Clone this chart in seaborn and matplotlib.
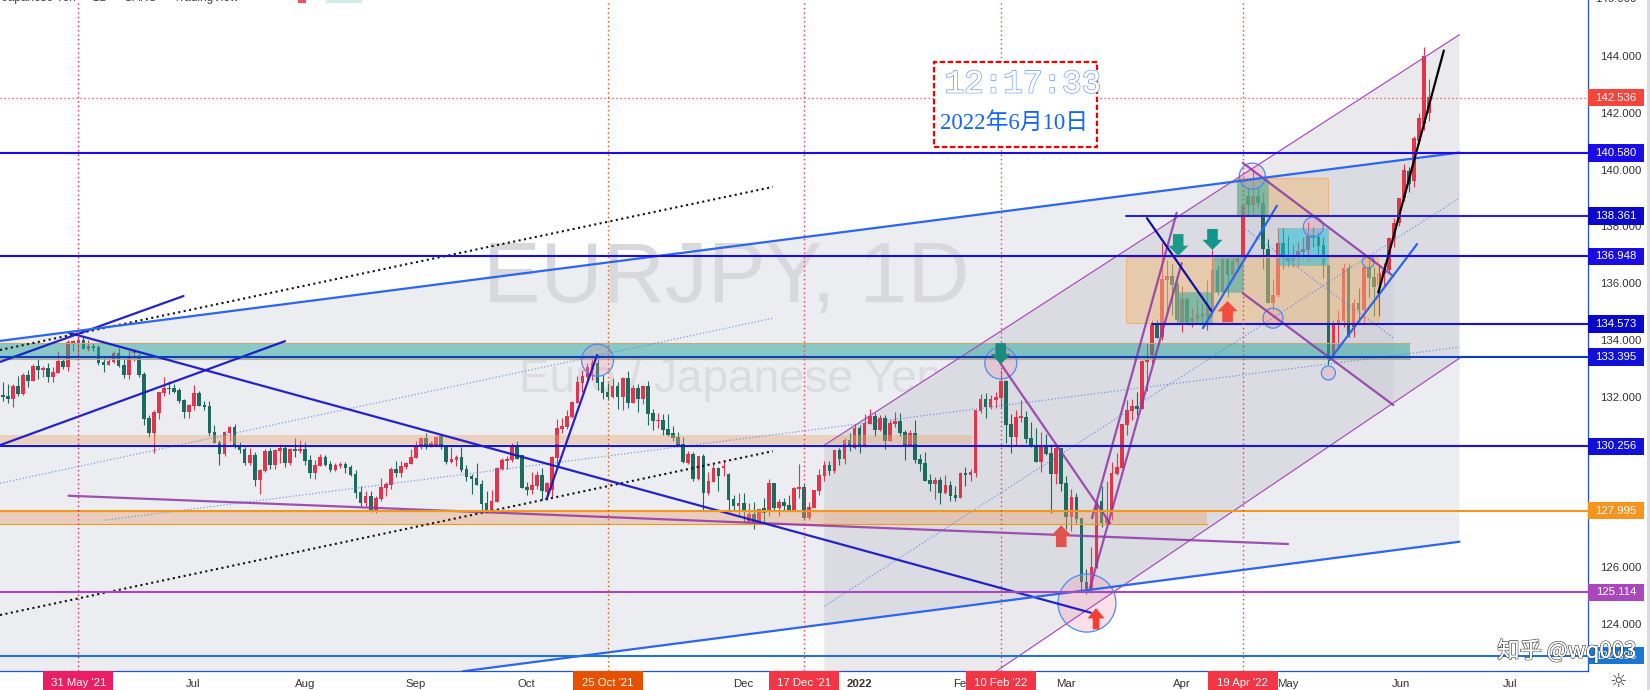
import numpy as np
import pandas as pd
import seaborn as sns
import matplotlib
matplotlib.use("Agg")
import matplotlib.pyplot as plt
import matplotlib.patheffects as pe
from matplotlib.patches import Rectangle, Polygon, Ellipse, FancyArrow

highs = [132.53,132.45,132.45,132.73,132.85,132.94,133.17,133.35,133.08,133.19,
133.06,133.61,133.35,134.00,134.00,134.11,134.09,134.00,133.90,133.82,
133.39,133.37,133.61,133.71,133.36,133.64,133.68,133.53,132.87,131.35,
131.53,132.16,132.69,132.55,132.45,132.31,131.92,131.74,132.41,132.20,
131.85,131.85,131.00,130.47,130.79,130.97,131.04,130.40,130.25,130.21,
130.05,129.46,130.16,130.21,130.16,130.34,130.31,130.21,130.55,130.48,
130.41,129.95,129.78,129.99,129.95,129.74,129.67,129.71,129.71,129.60,
129.42,128.86,128.69,128.69,128.51,129.14,129.00,129.53,129.74,129.74,
129.71,130.16,130.45,130.59,130.73,130.45,130.62,130.69,130.31,130.24,
129.95,130.24,129.60,129.28,129.67,129.07,128.69,128.72,129.53,129.85,
129.92,130.38,130.44,129.94,129.00,129.35,129.39,129.49,129.00,129.91,
131.22,131.25,131.53,131.85,132.73,132.94,133.19,133.47,133.50,132.77,
132.48,132.66,132.52,132.70,132.91,132.41,132.45,132.41,132.55,131.57,
131.43,131.39,131.39,130.97,130.76,130.58,130.09,130.05,129.91,129.98,
129.35,129.63,129.53,129.77,129.31,128.54,128.60,128.60,128.25,128.31,
128.07,128.43,129.10,128.98,128.40,128.44,128.54,128.83,129.64,128.93,
128.30,128.72,129.46,129.74,129.74,130.13,130.20,130.55,130.73,131.04,
131.01,131.40,131.56,131.43,131.35,131.36,131.18,131.47,131.43,130.83,
130.83,131.18,129.99,130.06,129.28,129.18,129.18,129.25,129.04,128.86,
129.35,129.53,129.46,131.54,132.10,132.14,132.07,132.17,132.95,132.60,
131.40,131.54,131.89,131.51,131.12,130.91,130.76,130.69,130.34,130.27,
130.20,129.22,128.76,128.62,127.74,125.94,126.72,128.34,128.86,129.04,
129.71,130.03,131.05,131.89,131.93,132.17,133.30,133.90,134.71,134.74,
137.41,136.82,136.68,136.29,135.90,135.50,135.13,135.46,135.29,136.11,
137.17,136.64,136.87,136.87,136.93,136.99,138.75,139.40,139.98,139.40,
139.16,137.54,136.14,137.95,137.95,137.66,137.38,137.46,137.64,138.15,
137.99,137.81,137.64,136.64,134.70,135.05,136.70,136.67,135.46,135.82,
136.67,136.81,136.56,136.59,136.70,137.64,138.29,139.00,140.20,140.10,
141.20,142.00,144.30,143.20]

body_tops = [132.06,132.02,132.39,132.39,132.76,132.76,133.08,133.08,133.01,133.01,
132.87,133.26,133.26,133.93,133.95,134.00,134.00,133.78,133.78,133.75,
133.22,133.26,133.54,133.54,133.12,133.36,133.61,133.39,132.80,131.25,
131.46,132.16,132.31,132.31,132.31,132.24,131.88,131.71,132.13,132.13,
131.71,131.67,130.76,130.40,130.76,130.93,130.93,130.26,130.15,129.95,
129.95,129.42,130.09,130.09,130.13,130.21,130.21,130.16,130.16,130.16,
130.16,129.78,129.60,129.88,129.88,129.64,129.60,129.64,129.64,129.53,
129.28,128.65,128.51,128.51,128.44,128.83,128.93,129.46,129.46,129.57,
129.67,129.88,130.24,130.55,130.55,130.38,130.59,130.62,130.24,129.81,
129.88,129.88,129.46,129.21,129.14,128.93,128.26,128.33,129.50,129.78,
129.81,130.24,130.23,129.94,128.82,128.89,129.24,129.24,128.96,129.88,
130.90,130.97,131.32,131.82,132.52,132.73,133.05,133.19,133.19,132.52,
132.17,132.38,132.38,132.66,132.66,132.31,132.31,132.38,132.38,131.43,
131.18,131.18,130.86,130.72,130.58,130.34,129.98,129.98,129.91,129.91,
129.03,129.49,129.49,129.53,129.28,128.40,128.26,128.25,127.87,127.87,
128.07,128.09,128.97,128.97,128.30,128.30,128.19,128.79,128.83,128.83,
128.12,128.72,129.25,129.60,129.60,130.13,130.13,130.48,130.48,130.90,
130.90,131.08,131.33,131.33,131.26,131.26,131.08,131.16,131.15,130.76,
130.73,130.73,129.81,129.67,129.07,129.07,129.07,128.90,128.90,128.54,
129.32,129.32,129.35,131.54,131.92,131.92,131.92,131.99,132.56,132.56,
131.05,131.29,131.29,131.29,130.55,130.31,130.31,130.31,130.03,130.20,
130.20,128.97,128.48,128.48,127.74,125.50,126.01,128.19,128.34,127.74,
129.32,129.53,131.05,131.54,131.68,131.68,133.27,133.30,134.53,134.53,
136.15,136.26,136.26,135.98,135.43,135.43,134.76,134.88,134.88,135.17,
136.46,136.46,136.85,136.85,136.78,136.91,138.75,139.07,139.07,139.07,
138.84,137.22,135.60,137.41,137.41,136.91,136.91,137.13,137.20,137.66,
137.69,137.64,137.34,136.64,134.52,134.70,136.52,136.52,135.29,135.29,
136.58,136.58,136.21,136.35,136.45,137.58,138.11,139.00,140.00,139.95,
141.10,141.80,144.00,142.54]

body_bottoms = [131.99,131.92,131.92,132.09,132.09,132.55,132.55,132.94,132.94,132.69,
132.69,132.83,133.05,133.05,133.90,133.89,133.68,133.68,133.71,133.19,
133.12,133.12,133.22,133.08,132.76,132.76,133.54,132.76,131.21,130.72,
130.72,131.43,132.13,132.27,132.16,131.85,131.46,131.46,131.67,131.67,
131.64,130.72,130.37,129.98,129.98,130.72,130.26,130.12,129.66,129.66,
129.07,129.07,129.39,129.60,129.60,130.09,129.67,129.67,130.09,130.09,
129.74,129.32,129.32,129.57,129.60,129.42,129.42,129.57,129.50,129.25,
128.62,128.26,128.26,128.02,128.02,128.40,128.79,128.90,129.32,129.32,
129.53,129.64,129.85,130.24,130.24,130.24,130.31,130.31,129.71,129.71,
129.78,129.42,129.18,129.11,128.90,128.23,128.02,127.96,128.30,129.46,
129.74,129.78,129.81,128.79,128.72,128.72,128.86,128.68,128.65,128.72,
129.84,130.86,130.93,131.29,131.78,132.48,132.70,132.94,132.48,132.13,
131.99,131.99,131.99,131.99,131.78,131.78,131.92,131.92,131.39,131.15,
131.15,130.83,130.65,130.55,130.30,129.70,129.67,129.10,129.10,128.61,
128.61,129.00,129.21,129.50,128.36,128.15,128.15,127.95,127.60,127.60,
127.60,127.90,127.98,128.09,128.09,128.16,128.02,128.02,128.76,127.73,
127.73,128.09,128.69,129.21,129.39,129.39,129.81,129.81,130.23,130.20,
130.23,130.23,131.04,130.83,130.83,130.45,130.45,131.04,130.73,130.30,
130.30,129.78,129.64,129.04,128.93,128.93,128.62,128.62,128.51,128.44,
128.44,129.25,129.25,129.32,131.50,131.64,131.64,131.89,131.96,131.01,
130.59,130.59,131.26,130.52,130.27,129.71,129.71,129.99,129.29,129.29,
128.93,127.77,127.77,127.70,125.48,125.22,125.22,125.98,127.56,127.56,
128.02,129.29,129.50,131.01,131.51,131.58,131.58,133.23,133.48,134.08,
134.11,136.12,135.94,134.71,134.64,134.64,134.67,134.75,134.85,134.82,
134.99,135.70,135.70,136.29,136.29,136.75,136.93,138.75,138.75,138.83,
137.20,135.31,135.31,135.60,136.91,136.78,136.78,136.91,137.09,137.17,
137.58,137.31,136.64,133.29,133.41,134.52,134.68,134.17,134.47,135.05,
135.05,136.17,135.88,135.94,136.33,136.47,137.58,138.11,139.00,139.50,
139.60,141.00,141.60,142.00]

lows = [131.85,131.79,131.64,132.02,132.06,132.35,132.55,132.62,132.70,132.52,
132.52,132.83,132.97,132.90,133.61,133.47,133.68,133.62,133.62,133.12,
132.87,133.12,133.19,133.05,132.66,132.62,133.26,132.69,131.00,130.58,
130.02,131.21,132.02,132.09,132.13,131.78,131.25,131.25,131.53,131.67,
131.53,130.62,130.37,129.59,129.91,130.44,130.19,130.02,129.59,129.59,
128.86,128.58,129.35,129.46,129.46,129.67,129.53,129.60,129.88,130.02,
129.60,129.14,129.11,129.57,129.57,129.35,129.39,129.50,129.32,129.21,
128.44,128.16,128.16,127.96,127.90,128.33,128.51,128.76,129.18,129.18,
129.46,129.64,129.85,130.16,130.16,130.24,130.31,130.16,129.64,129.67,
129.57,129.35,129.04,128.58,128.90,128.02,127.90,127.90,128.30,129.42,
129.46,129.71,129.81,128.79,128.54,128.58,128.75,128.36,128.36,128.48,
129.60,130.72,130.86,131.25,131.78,132.17,132.52,132.59,132.24,131.92,
131.88,131.96,131.57,131.53,131.60,131.78,131.46,131.74,131.00,130.83,
130.90,130.65,130.62,130.44,130.27,129.67,129.63,129.03,129.07,128.01,
128.54,129.00,128.68,129.21,128.01,128.01,127.84,127.60,127.60,127.34,
127.54,127.61,127.82,127.98,127.82,128.02,127.98,127.98,128.44,127.66,
127.66,128.09,128.54,129.04,129.25,129.32,129.60,129.64,130.09,130.16,
130.02,130.23,131.04,130.62,130.80,130.16,130.45,130.94,130.62,129.78,
130.30,129.67,129.39,129.04,128.69,128.40,128.23,128.58,128.33,128.33,
128.44,128.86,129.04,129.18,131.43,131.26,131.57,131.61,131.61,130.38,
130.03,130.27,131.12,130.38,130.24,129.71,129.36,129.96,127.91,128.93,
128.69,127.35,127.28,127.56,125.20,125.05,125.10,125.98,127.42,127.49,
127.67,129.25,129.50,130.66,131.19,131.36,131.58,132.19,133.18,134.08,
134.00,134.92,134.88,134.64,134.28,134.58,134.47,134.58,134.58,134.37,
134.82,135.58,135.55,135.52,136.29,136.46,136.93,138.40,138.40,138.69,
136.50,135.31,135.05,135.52,136.51,136.58,136.58,136.58,136.87,136.79,
137.28,136.99,136.20,133.12,133.29,133.76,134.47,134.09,134.11,134.64,
134.58,135.52,134.83,134.83,135.88,136.35,137.29,138.00,138.90,139.20,
139.40,140.90,141.40,141.70]

candle_colours = ("GGRGRGRGRG" "RRGRRRGRGG" "GRRGGRRGGG" "RRRGGGGRRG" "GGGGRRGGGR"
    "GRRGRRGRGR" "GGRRGGRRGG" "GGRGRRRRGR" "RRRRGRRGGR" "RGGGGGGRRR"
    "RRGGGRRGRR" "RRRRRRRRGG" "GRGRGRGRGG" "RGGGGGRGRG" "RRGRGGRGRG"
    "RGRGRGGRRG" "RRRRGRGRGR" "GRRGRGRRGG" "RGGGGRGRGG" "RGRRRGRRRG"
    "GRRGGGRGGR" "GGRGGGRRGR" "RRRRRGRRRG" "RRGGRGRRGR" "RGRGRRRGRG"
    "GGRRGGRRRR" "GGGGRRRGRG" "RGGRRRRRRG" "RRRR")

# Horizontal levels: price, first bar, line colour
level_prices = [140.580, 138.361, 136.948, 134.573, 133.395, 130.256, 127.995, 125.114, 122.895]
level_starts = [-15.54, 207.8, -15.54, 213.0, -15.54, -15.54, -15.54, -15.54, -15.54]
level_colours = ["#1a0ce6", "#2a22c8", "#1a0ce6", "#1a14c8", "#0a3ec4", "#1a14dc", "#ef9a1e", "#a848c0", "#1f74cf"]
label_colours = ["#1a0ce6", "#0a0ac8", "#1a0ce6", "#0808c8", "#1010d8", "#1010d8", "#f7941d", "#ab47bc", "#1976d2"]
last_price = 142.536

price_ticks = [124, 126, 132, 134, 136, 138, 140, 142, 144]
month_bars = [22.7, 45, 67, 88.8, 131.9, 154.9, 175.5, 196, 219, 240, 262.3, 284]
month_labels = ["Jul", "Aug", "Sep", "Oct", "Dec", "2022", "Feb", "Mar", "Apr", "May", "Jun", "Jul"]
event_bars = [0, 105, 144, 183, 231]
event_labels = ["31 May '21", "25 Oct '21", "17 Dec '21", "10 Feb '22", "19 Apr '22"]
event_colours = ["#e91e63", "#e65100", "#f23645", "#f23645", "#f23645"]

# Drawings: (bar0, price0, bar1, price1)
navy_lines = [(-15.54,133.23,20.87,135.55), (-15.54,130.30,41.0,133.96), (-1.96,134.26,200.9,124.40),
              (92.9,128.40,102.9,133.47)]
dark_lines = [(212.0,138.29,224.9,135.0)]
bright_lines = [(-15.54,133.97,274,140.60), (76.3,122.34,274,126.90), (223.1,134.42,237.8,138.73),
                (248.2,133.29,265.6,137.38)]
purple_lines = [(-1.96,128.52,240.0,126.82), (182.9,133.19,204.7,127.55), (201.1,127.73,217.9,138.48),
                (200.7,125.27,218.9,136.71), (231.0,140.24,260.9,136.25), (231.0,135.65,260.9,131.71)]
thin_purple = [(148.0,130.30,274.0,144.75), (176.5,121.67,274.0,133.36)]
black_lines = [(257.9,135.67,270.9,144.19)]
blue_dotted = [(-15.54,128.96,137.8,134.77), (5.3,127.66,274,133.75), (148,124.63,274,139.0), (231.5,137.91,260.9,134.07)]
black_dotted = [(-15.54,133.65,137.8,139.39), (-15.54,124.32,137.8,130.09)]

channel_one = [(-15.54,133.97),(274,140.60),(274,126.90),(76.3,122.34),(-15.54,122.34)]
channel_two = [(148,130.30),(274,144.75),(274,133.36),(176.5,121.67),(148,121.67)]
channel_three = [(231,140.24),(260.9,136.25),(260.9,131.71),(231,135.65)]

# Zones: bar0, bar1, price low, price high
bands = [(-15.54,264.2,133.33,133.89,"#26a69a",0.5,"#c8a878"),
         (-15.54,177.2,130.34,130.65,"#e8a878",0.42,"none"),
         (-15.54,224.0,127.52,127.98,"#e8a070",0.4,"#ef9a1e")]
orange_boxes = [(207.9,257.9,134.6,136.92),(229.9,248.0,138.36,139.70)]
teal_boxes = [(218.0,225.0,134.6,135.69),(225.1,231.1,135.69,136.92),(229.9,236.0,138.40,139.67)]
cyan_boxes = [(238.0,248.0,136.64,137.94)]

# Circles: bar, price, radius in bars, radius in price
circles = [(103,133.29,3.17,0.563),(183,133.19,3.17,0.563),(200.1,124.74,5.75,1.02),(232.9,139.77,2.58,0.458),
           (237,134.77,1.98,0.352),(245,137.98,1.98,0.352),(255.9,136.75,1.19,0.211),(248,132.84,1.39,0.246)]
# Arrows: bar, tail price, tip price, colour
arrows = [(218.2,137.73,136.96,"#1a9a88"),(225,137.91,137.17,"#12958a"),(183,133.89,133.15,"#1a8a7c"),
          (228,134.63,135.37,"#f04c40"),(195,126.71,127.48,"#e0544c")]
narrow_arrow = (201.9,123.82,124.56,"#f83c30")

sns.set_theme(style="white")
plt.rcParams["font.family"] = ["Liberation Sans", "Noto Sans CJK SC", "DejaVu Sans"]

W, H = 1650, 690
fig = plt.figure(figsize=(W / 100, H / 100), dpi=100, facecolor="white")
ax = fig.add_axes([0, 19 / H, 1588 / W, 671 / H], facecolor="white")
XLIM = (-15.54, 299.5)
YLIM = (122.35, 145.97)


def draw_segments(segments, **style):
    rows = []
    for k, (x0, y0, x1, y1) in enumerate(segments):
        rows += [dict(x=x0, y=y0, seg=k), dict(x=x1, y=y1, seg=k)]
    sns.lineplot(data=pd.DataFrame(rows), x="x", y="y", units="seg", estimator=None,
                 sort=False, legend=False, ax=ax, **style)


# channel fills
ax.add_patch(Polygon(channel_one, closed=True, fc="#ecedf1", ec="none", zorder=1))
ax.add_patch(Polygon(channel_two, closed=True, fc="#a0a0b0", ec="none", alpha=0.22, zorder=1.1))
ax.add_patch(Polygon(channel_three, closed=True, fc="#a0a0b0", ec="none", alpha=0.12, zorder=1.2))

# watermarks
ax.text(128.5, 136.1, "EURJPY, 1D", fontsize=62, color="#d9d9dc", ha="center", va="center",
        family="Liberation Sans", zorder=1.5)
ax.text(129.4, 132.6, "Euro / Japanese Yen", fontsize=33, color="#dcdcde", ha="center", va="center",
        family="Liberation Sans", zorder=1.5)

# candles
bars = np.arange(-15, -15 + len(highs))
palette = {"R": "#e2344a", "G": "#1b6b5f"}
cols = [palette[c] for c in candle_colours]
ax.vlines(bars, lows, highs, colors=cols, linewidth=0.8, zorder=3)
tops = np.array(body_tops)
bots = np.array(body_bottoms)
ax.bar(bars, np.maximum(tops - bots, 0.05), bottom=bots, width=0.72, color=cols, linewidth=0, zorder=3.1)

# zones
for x0, x1, p0, p1, fc, a, ec in bands:
    ax.add_patch(Rectangle((x0, p0), x1 - x0, p1 - p0, fc=fc, alpha=a, ec="none", zorder=4))
    if ec != "none":
        ax.plot([x0, x1], [p0, p0], color=ec, lw=0.8, zorder=4.1)
        ax.plot([x0, x1], [p1, p1], color=ec, lw=0.8, zorder=4.1)
for x0, x1, p0, p1 in orange_boxes:
    ax.add_patch(Rectangle((x0, p0), x1 - x0, p1 - p0, fc="#f0bc78", ec="none", alpha=0.5, zorder=4))
    ax.add_patch(Rectangle((x0, p0), x1 - x0, p1 - p0, fc="none", ec="#eeb47c", lw=0.8, zorder=4.1))
for x0, x1, p0, p1 in teal_boxes:
    ax.add_patch(Rectangle((x0, p0), x1 - x0, p1 - p0, fc="#26a69a", ec="#a8a888", lw=0.7, alpha=0.5, zorder=4.2))
for x0, x1, p0, p1 in cyan_boxes:
    ax.add_patch(Rectangle((x0, p0), x1 - x0, p1 - p0, fc="#26c0d8", ec="#a8a888", lw=0.7, alpha=0.55, zorder=4.2))

# circles
for x, p, rx, ry in circles:
    fc = "#f0a030" if rx < 1.3 and p > 135 else "#f48fb1"
    ax.add_patch(Ellipse((x, p), 2 * rx, 2 * ry, fc=fc, ec="none", alpha=0.28, zorder=4.5))
    ax.add_patch(Ellipse((x, p), 2 * rx, 2 * ry, fc="none", ec="#4a8cf0", lw=0.9, zorder=4.6))

# trend lines
draw_segments(blue_dotted, color="#4a78f0", linewidth=0.9, linestyle=":", alpha=0.7, zorder=5)
draw_segments(black_dotted, color="#111111", linewidth=1.5, linestyle=":", zorder=5)
draw_segments(thin_purple, color="#a848c0", linewidth=0.85, zorder=5)
draw_segments(purple_lines, color="#9034a8", linewidth=1.6, alpha=0.85, zorder=5.2)
draw_segments(navy_lines, color="#1818c8", linewidth=1.6, alpha=0.95, zorder=5.3)
draw_segments(dark_lines, color="#1010a8", linewidth=1.6, zorder=5.3)
draw_segments(bright_lines, color="#2a66f0", linewidth=1.6, zorder=5.3)
draw_segments(black_lines, color="#000000", linewidth=1.6, zorder=5.4)

# arrows
for x, tail, tip, col in arrows:
    ax.add_patch(FancyArrow(x, tail, 0, tip - tail, width=2.1, head_width=4.0, head_length=0.36,
                            length_includes_head=True, fc=col, ec="none", zorder=6))
x, tail, tip, col = narrow_arrow
ax.add_patch(FancyArrow(x, tail, 0, tip - tail, width=1.3, head_width=3.4, head_length=0.36,
                        length_includes_head=True, fc=col, ec="none", zorder=6))

# horizontal levels
for p, s, c in zip(level_prices, level_starts, level_colours):
    draw_segments([(s, p, XLIM[1], p)], color=c, linewidth=1.5, zorder=5.5)
ax.axhline(last_price, color="#f23645", lw=0.9, ls=(0, (1, 2.2)), zorder=5.5)

# event verticals
for b, c in zip(event_bars, event_colours):
    ax.axvline(b, color=c, lw=1.0, ls=(0, (1, 2.2)), zorder=5.6)

ax.set_xlim(*XLIM)
ax.set_ylim(*YLIM)
ax.set_xlabel("")
ax.set_ylabel("")

# axes
for side in ("top", "left"):
    ax.spines[side].set_visible(False)
for side in ("right", "bottom"):
    ax.spines[side].set_visible(True)
    ax.spines[side].set_color("#2450e0")
    ax.spines[side].set_linewidth(0.9)
ax.yaxis.tick_right()
ax.set_yticks(price_ticks)
ax.set_yticklabels([f"{p:.3f}" for p in price_ticks])
ax.tick_params(axis="y", length=0, pad=9, labelsize=8.2, labelcolor="#333333")
ax.set_xticks(month_bars)
ax.set_xticklabels(month_labels)
ax.tick_params(axis="x", length=0, pad=6, labelsize=8.2, labelcolor="#333333")
for lab in ax.get_xticklabels():
    if lab.get_text() == "2022":
        lab.set_fontweight("bold")
ax.grid(False)

# price labels
ytrans = ax.get_yaxis_transform()
box_w = 56 / 1588
box_h = 17.5 / 28.4
for p, c in zip(level_prices + [last_price], label_colours + ["#f6453c"]):
    ax.add_patch(Rectangle((1.0, p - box_h / 2), box_w, box_h, transform=ytrans, fc=c, ec="none",
                           clip_on=False, zorder=10))
    ax.text(1.0 + box_w / 2, p, f"{p:.3f}", transform=ytrans, color="white", fontsize=8.2,
            ha="center", va="center", clip_on=False, zorder=11)
ax.text(1.0 + box_w / 2, 146.0, "146.000", transform=ytrans, color="#333333", fontsize=8.2,
        ha="center", va="center", clip_on=False, zorder=9)

# date labels
xtrans = ax.get_xaxis_transform()
bw = 70 / 5.04
for b, lab, c in zip(event_bars, event_labels, event_colours):
    ax.add_patch(Rectangle((b - bw / 2, -19 / 671), bw, 19 / 671, transform=xtrans, fc=c, ec="none",
                           clip_on=False, zorder=10))
    ax.text(b, -12 / 671, lab, transform=xtrans, color="white", fontsize=8.2, ha="center", va="center",
            clip_on=False, zorder=11)

# clock box
ax_fig = fig.transFigure
fig.add_artist(Rectangle((934 / W, 1 - 147 / H), 163 / W, 84.5 / H, transform=ax_fig, fc="white", ec="#f00000",
                         lw=1.6, ls=(0, (2.4, 1.2)), zorder=7, alpha=1))
fig.text(1023 / W, 1 - 84 / H, "12:17:33", fontsize=23.5, family="Liberation Mono", color="white", ha="center",
         va="center", zorder=8, path_effects=[pe.withStroke(linewidth=1.3, foreground="#7ea4ff"), pe.Normal()])
fig.text(1014 / W, 1 - 123 / H, "2022年6月10日", fontsize=16.5, family=["Liberation Serif", "Noto Sans CJK SC"],
         color="#1464ff", ha="center", va="center", zorder=8)

# header cut by the top edge
fig.text(2 / W, 1 + 2 / H, "Japanese Yen  ·  1D  ·  SAXO  ·  TradingView", fontsize=8.5, color="#444444",
         ha="left", va="center", zorder=8)
fig.add_artist(Rectangle((298 / W, 1 - 3 / H), 8 / W, 3 / H, transform=ax_fig, fc="#f05060", ec="none", zorder=8))
fig.add_artist(Rectangle((326 / W, 1 - 3 / H), 36 / W, 3 / H, transform=ax_fig, fc="#cfeee8", ec="none", zorder=8))

# site mark
fig.text(1567 / W, 1 - 651 / H, "知乎 @wq003", fontsize=16, family=["Noto Sans CJK SC", "DejaVu Sans"],
         color="white", ha="center", va="center", zorder=12,
         path_effects=[pe.withStroke(linewidth=1.1, foreground="#444444"), pe.Normal()])

# right edge and gear
fig.add_artist(Rectangle((1647 / W, 0), 3 / W, 1, transform=ax_fig, fc="#d8dcea", ec="none", zorder=1))
fig.text(1618 / W, 1 - 681 / H, "☼", fontsize=14, family="DejaVu Sans", color="#444444", ha="center", va="center")

fig.savefig("out.png", dpi=100, facecolor="white")
